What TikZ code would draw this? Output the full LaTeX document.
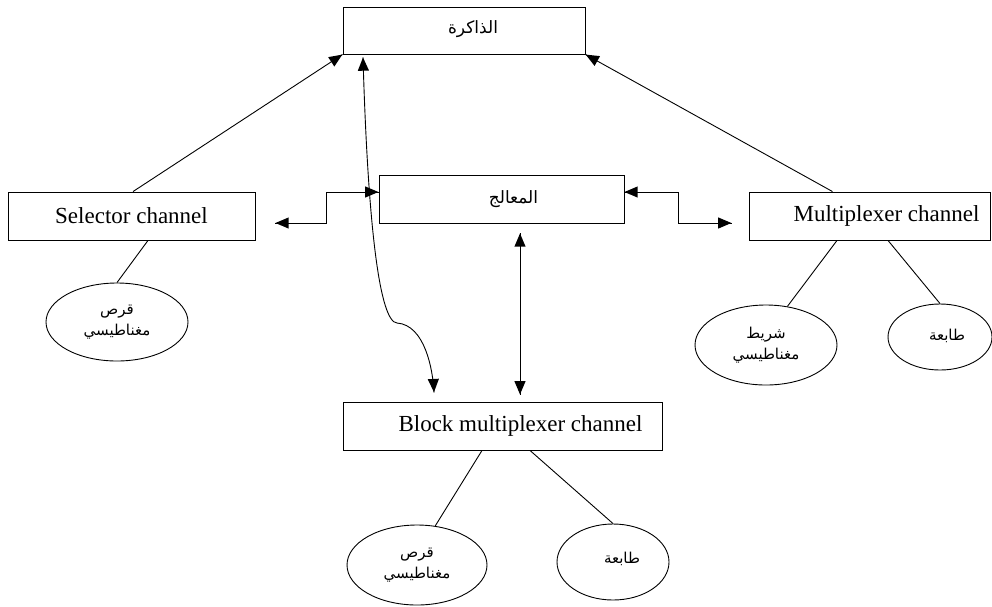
\documentclass[tikz,border=0pt]{standalone}
\usepackage{fontspec}
\setmainfont{Liberation Serif}
\newfontfamily\arabicfont[Script=Arabic]{DejaVu Sans}
\TeXXeTstate=1
\usepackage{tikz}
\usetikzlibrary{arrows}
\usetikzlibrary{decorations.markings}
\usetikzlibrary{shapes.geometric}
\usetikzlibrary{positioning}
\tikzset{->/.style = {decoration={markings,
                                  mark=at position 0.999 with {\arrow[scale=1.6]{triangle 45}}},
                      postaction={decorate}}}
\tikzset{<->/.style = {decoration={markings,
                                   mark=at position 0 with {\arrowreversed[scale=1.6]{triangle 45}},
                                   mark=at position 0.999 with {\arrow[scale=1.6]{triangle 45}}},
                       postaction={decorate}}}
\tikzset{chanbox/.style = {draw, inner sep=0pt, minimum height=48pt,
                           font=\fontsize{23}{26}\selectfont}}
\tikzset{arbox/.style = {chanbox, font=\arabicfont\fontsize{17}{20}\selectfont}}
\tikzset{devnode/.style = {draw, ellipse, inner sep=0pt, align=center,
                           font=\arabicfont\fontsize{15}{21}\selectfont}}

\begin{document}
\begin{tikzpicture}[x=1pt, y=-1pt, line width=0.9pt]
    \useasboundingbox (0, 0) rectangle (992, 606);
    \node [arbox, minimum width=242pt, minimum height=47pt] (mem) at (464, 30.5) {\hspace{18pt}\raisebox{6pt}{\beginR الذاكرة\endR}};
    \node [arbox, minimum width=245pt] (proc) at (501.5, 199) {\hspace{24pt}\raisebox{4pt}{\beginR المعالج\endR}};
    \node [chanbox, minimum width=247pt] (sel) at (131.5, 216) {Selector channel\hspace{16pt}};
    \node [chanbox, minimum width=241pt] (mux) at (869.5, 216) {\hspace{34pt}Multiplexer channel};
    \node [chanbox, minimum width=319pt] (blk) at (502.5, 426) {\hspace{36pt}Block multiplexer channel};

    \node [devnode, minimum width=142pt, minimum height=78pt] (disk1) at (117, 322) {\beginR قرص\endR\\\beginR مغناطيسي\endR};
    \node [devnode, minimum width=142pt, minimum height=80pt] (tape) at (766, 345) {\beginR شريط\endR\\\beginR مغناطيسي\endR};
    \node [devnode, minimum width=104pt, minimum height=66pt] (prn1) at (940, 337) {\hspace{14pt}\raisebox{4pt}{\beginR طابعة\endR}};
    \node [devnode, minimum width=140pt, minimum height=80pt] (disk2) at (417, 565) {\beginR قرص\endR\\\beginR مغناطيسي\endR};
    \node [devnode, minimum width=112pt, minimum height=76pt] (prn2) at (613, 562) {\hspace{18pt}\raisebox{8pt}{\beginR طابعة\endR}};

    \draw [->] ([xshift=1.5pt]sel.north) -- (mem.south west);
    \draw [->] ([xshift=-37pt]mux.north) -- (mem.south east);
    \draw [<->] ([xshift=20pt, yshift=-7pt]sel.east) -- ++(51, 0) |- ([yshift=7pt]proc.west);
    \draw [<->] ([yshift=7pt]proc.east) -- ++(54, 0) |- ([xshift=-17pt, yshift=-7pt]mux.west);
    \draw [<->] ([xshift=18.5pt, yshift=-10pt]proc.south) -- ([xshift=17.5pt, yshift=7pt]blk.north);
    \draw [<->] ([xshift=-101pt, yshift=-3pt]mem.south) .. controls (368, 230) and (380, 322) .. (397, 323)
        .. controls (425, 325) and (433, 370) .. ([xshift=-68.5pt, yshift=9pt]blk.north);

    \draw ([xshift=16.5pt]sel.south) -- (disk1.north);
    \draw ([xshift=-32.5pt]mux.south) -- (tape.61);
    \draw ([xshift=18.5pt]mux.south) -- (prn1.north);
    \draw ([xshift=-20.5pt]blk.south) -- (disk2.65);
    \draw ([xshift=27.5pt]blk.south) -- (prn2.north);
\end{tikzpicture}
\end{document}
